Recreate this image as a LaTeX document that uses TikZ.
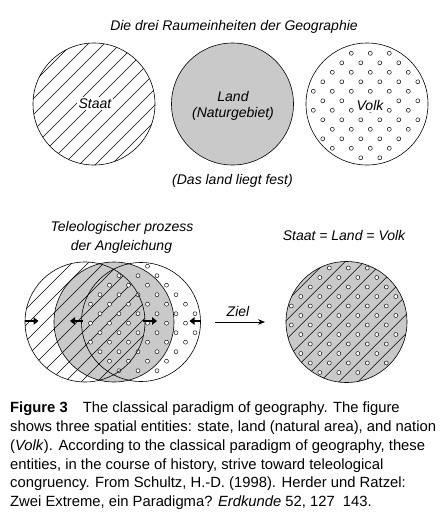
\documentclass[tikz,border=0pt]{standalone}
\usepackage{fontspec}
\setmainfont{Liberation Sans}
\usetikzlibrary{arrows.meta}
\tikzset{
  lab/.style={font=\fontsize{14}{16}\selectfont\itshape, inner sep=0pt, anchor=base},
  labw/.style={lab, fill=white, inner sep=2pt},
  captext/.style={font=\fontsize{14.8}{18.8}\selectfont, inner sep=0pt, anchor=base west},
  rim/.style={line width=0.6pt},
  hatch/.style={line width=0.5pt},
  dotc/.style={line width=0.45pt, fill=white},
  push/.style={line width=2.6pt, -{Triangle[length=5pt,width=7.5pt]}},
  goal/.style={line width=0.6pt, -{Stealth[length=7pt,width=5.5pt]}},
  landfill/.style={fill=black!21},
}
% hatch lines x+y = c0 + d*k inside circle (cx,cy)
\newcommand\myhatch[4]{% cx cy c0 d
  \foreach \k in {-9,...,9}{
    \draw[hatch] ({#3+#4*\k-#2-90},{#2+90}) -- ++(180,-180);
  }}
% dot lattice inside circle
\newcommand\mydots[5]{% cx cy r x0 y0
  \foreach \a in {-8,...,8}{\foreach \b in {-8,...,8}{
    \pgfmathsetmacro\px{#4+9.5*(\a-\b)}
    \pgfmathsetmacro\py{#5+9.5*(\a+\b)}
    \pgfmathsetmacro\dd{veclen(\px-#1,\py-#2)}
    \ifdim\dd pt<\dimexpr #3pt-2.6pt\relax
      \draw[dotc] (\px,\py) circle (2pt);
    \fi
  }}}
\begin{document}
\begin{tikzpicture}[x=1pt,y=-1pt]
\useasboundingbox (0,0) rectangle (446,517);

% ---------- top row ----------
\node[lab] (title) at (234,30.7) {Die drei Raumeinheiten der Geographie};

% Staat
\begin{scope}
  \clip (94,104) circle (61pt);
  \myhatch{94}{104}{228}{16}
\end{scope}
\draw[rim] (94,104) circle (61pt);
\node[labw] (staat) at (95,108.3) {Staat};

% Land
\draw[rim, landfill] (232.5,104) circle (61pt);
\node[lab] (land) at (233,101.7) {Land};
\node[lab] (natur) at (233,117.5) {(Naturgebiet)};

% Volk
\mydots{367}{104}{61}{370.3}{53.3}
\draw[rim] (367,104) circle (61pt);
\node[labw] (volk) at (370,110) {Volk};

\node[lab] (fest) at (232.5,184) {(Das land liegt fest)};

% ---------- bottom row ----------
\node[lab] (tel1) at (122,231) {Teleologischer prozess};
\node[lab] (tel2) at (121.5,250) {der Angleichung};
\node[lab] (gleich) at (344,240) {Staat = Land = Volk};

% Land (gray)
\fill[landfill] (114,322) circle (60pt);
% Staat hatching
\begin{scope}
  \clip (85,322) circle (60pt);
  \myhatch{85}{322}{415}{16}
\end{scope}
% Volk dots
\mydots{141}{322}{59.5}{119}{275.7}
\draw[rim] (85,322) circle (60pt);
\draw[rim] (114,322) circle (60pt);
\draw[rim] (141,322) circle (59.5pt);

% movement arrows
\coordinate (a1s) at (25,321);  \coordinate (a1e) at (38.5,321);
\coordinate (a2s) at (82.5,321);  \coordinate (a2e) at (70,321);
\coordinate (a3s) at (143,321); \coordinate (a3e) at (157,321);
\coordinate (a4s) at (201,321); \coordinate (a4e) at (189.5,321);
\draw[push] (a1s) -- (a1e);
\draw[push] (a2s) -- (a2e);
\draw[push] (a3s) -- (a3e);
\draw[push] (a4s) -- (a4e);

% Ziel arrow
\coordinate (z1) at (215,322);
\coordinate (z2) at (265,322);
\draw[goal] (z1) -- (z2);
\node[lab] (ziel) at (238,316.7) {Ziel};

% combined circle
\fill[landfill] (346.5,322) circle (60.5pt);
\begin{scope}
  \clip (346.5,322) circle (60.5pt);
  \myhatch{346.5}{322}{606.8}{19}
\end{scope}
\mydots{346.5}{322}{60.5}{329.3}{268}
\draw[rim] (346.5,322) circle (60.5pt);

% ---------- caption ----------
\node[captext] (c1) at (10,412.7) {\textbf{Figure 3}\hspace{15pt}The classical paradigm of geography. The figure};
\node[captext] (c2) at (10,431.5) {shows three spatial entities: state, land (natural area), and nation};
\node[captext] (c3) at (10,450.3) {(\textit{Volk}). According to the classical paradigm of geography, these};
\node[captext] (c4) at (10,469.1) {entities, in the course of history, strive toward teleological};
\node[captext] (c5) at (10,487.9) {congruency. From Schultz, H.-D. (1998). Herder und Ratzel:};
\node[captext] (c6) at (10,506.7) {Zwei Extreme, ein Paradigma? \textit{Erdkunde} 52, 127\hspace{8pt}143.};
\end{tikzpicture}
\end{document}
